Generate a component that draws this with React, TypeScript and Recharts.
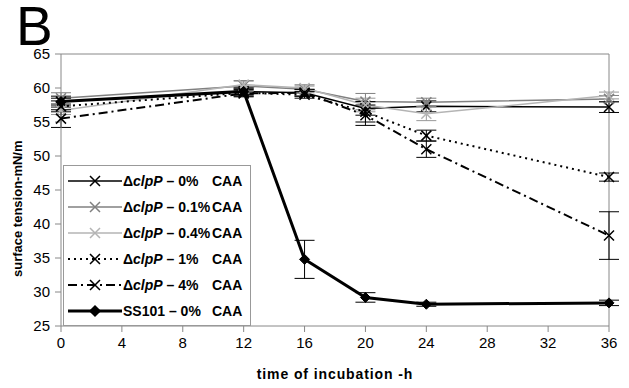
import React from 'react';
import { LineChart, Line, XAxis, YAxis, ErrorBar, ReferenceLine } from 'recharts';

const times = [0, 12, 16, 20, 24, 36];

const clp0 = [58.0, 59.5, 59.3, 57.0, 57.3, 57.2];
const clp01 = [58.5, 60.3, 59.8, 58.0, 57.9, 58.4];
const clp04 = [56.7, 60.5, 60.0, 57.5, 56.2, 58.9];
const clp1 = [57.3, 59.3, 59.0, 56.5, 53.0, 46.9];
const clp4 = [55.5, 59.2, 59.3, 56.0, 51.0, 38.3];
const ss101 = [58.0, 59.5, 34.8, 29.2, 28.2, 28.4];

const err0 = [0.8, 0.5, 0.5, 1.0, 0.8, 0.8];
const err01 = [0.8, 0.8, 0.5, 1.2, 0.6, 0.5];
const err04 = [0.6, 0.5, 0.5, 1.0, 1.0, 0.5];
const err1 = [0.8, 0.5, 0.5, 1.5, 0.8, 0.6];
const err4 = [1.3, 0.5, 0.5, 1.5, 1.2, 3.5];
const errSS = [0.5, 0.5, 2.8, 0.7, 0.3, 0.4];

const xTicks = [0, 4, 8, 12, 16, 20, 24, 28, 32, 36];
const yTicks = [25, 30, 35, 40, 45, 50, 55, 60, 65];

const data = times.map((t, i) => ({
  t,
  clp0: clp0[i], e0: err0[i],
  clp01: clp01[i], e01: err01[i],
  clp04: clp04[i], e04: err04[i],
  clp1: clp1[i], e1: err1[i],
  clp4: clp4[i], e4: err4[i],
  ss101: ss101[i], eSS: errSS[i],
}));

const series = [
  { key: 'clp0', err: 'e0', label: '0%', color: '#000', dash: undefined, width: 1.5, marker: 'x' },
  { key: 'clp01', err: 'e01', label: '0.1%', color: '#808080', dash: undefined, width: 1.5, marker: 'x' },
  { key: 'clp04', err: 'e04', label: '0.4%', color: '#b4b4b4', dash: undefined, width: 1.5, marker: 'x' },
  { key: 'clp1', err: 'e1', label: '1%', color: '#000', dash: '2 4', width: 2, marker: 'x' },
  { key: 'clp4', err: 'e4', label: '4%', color: '#000', dash: '9 4 2 4', width: 2, marker: 'x' },
  { key: 'ss101', err: 'eSS', label: '0%', color: '#000', dash: undefined, width: 3, marker: 'd' },
];

const font = '"Liberation Sans", Arial, sans-serif';

function markerPath(marker: string, cx: number, cy: number) {
  if (marker === 'd') {
    return `M${cx},${cy - 5}L${cx + 5},${cy}L${cx},${cy + 5}L${cx - 5},${cy}Z`;
  }
  return `M${cx - 5},${cy - 5}L${cx + 5},${cy + 5}M${cx - 5},${cy + 5}L${cx + 5},${cy - 5}`;
}

const makeDot = (s: any) => (props: any) => {
  const { cx, cy, index } = props;
  if (cx == null || cy == null) return <g key={index} />;
  return (
    <path
      key={index}
      d={markerPath(s.marker, cx, cy)}
      stroke={s.color}
      strokeWidth={s.marker === 'd' ? 1 : 1.5}
      fill={s.color}
    />
  );
};

function LegendBox() {
  return (
    <div
      style={{
        position: 'absolute',
        left: 63,
        top: 165,
        width: 188,
        height: 161,
        border: '1px solid #999',
        background: '#fff',
        fontFamily: font,
        fontWeight: 'bold',
        fontSize: 14,
        boxSizing: 'border-box',
      }}
    >
      {series.map((s, i) => (
        <div key={s.key} style={{ position: 'absolute', left: 0, top: 4 + i * 26, height: 22, display: 'flex', alignItems: 'center' }}>
          <svg width={59} height={22} style={{ display: 'block' }}>
            <line x1={4} y1={11} x2={58} y2={11} stroke={s.color} strokeWidth={s.width} strokeDasharray={s.dash} />
            <path d={markerPath(s.marker, 31, 11)} stroke={s.color} strokeWidth={1.5} fill={s.color} />
          </svg>
          <span style={{ width: 89, whiteSpace: 'nowrap' }}>
            {s.key === 'ss101' ? (
              <>SS101 – {s.label}</>
            ) : (
              <>
                Δ<i>clpP</i> – {s.label}
              </>
            )}
          </span>
          <span>CAA</span>
        </div>
      ))}
    </div>
  );
}

export default function App() {
  return (
    <div style={{ position: 'absolute', left: 0, top: 0, width: 629, height: 388, background: '#fff' }}>
      <LineChart
        width={629}
        height={388}
        data={data}
        margin={{ top: 54, right: 20, bottom: 0, left: 0 }}
        style={{ position: 'absolute', left: 0, top: 0 }}
      >
        <XAxis
          dataKey="t"
          type="number"
          domain={[0, 36]}
          ticks={xTicks}
          tickSize={6}
          tickMargin={5}
          stroke="#888"
          tick={{ fill: '#000', fontSize: 15, fontFamily: font }}
          height={62}
          label={{ value: 'time of incubation -h', position: 'insideBottom', offset: 9, fill: '#000', fontSize: 14, fontWeight: 'bold', fontFamily: font, letterSpacing: 0.9 }}
        />
        <YAxis
          type="number"
          domain={[25, 65]}
          ticks={yTicks}
          tickSize={6}
          tickMargin={5}
          width={61}
          stroke="#888"
          interval={0}
          tick={{ fill: '#000', fontSize: 15, fontFamily: font }}
          label={{ value: 'surface tension-mN/m', angle: -90, position: 'insideLeft', offset: 17, dy: 87, fill: '#000', fontSize: 13, fontWeight: 'bold', fontFamily: font }}
        />
        <ReferenceLine y={65} stroke="#888" />
        <ReferenceLine x={36} stroke="#888" />
        {series.map((s) => (
          <Line
            key={s.key}
            dataKey={s.key}
            type="linear"
            stroke={s.color}
            strokeWidth={s.width}
            strokeDasharray={s.dash}
            dot={makeDot(s)}
            activeDot={false}
            isAnimationActive={false}
          >
            <ErrorBar dataKey={s.err} width={10} stroke={s.color === '#b4b4b4' ? '#999' : s.color} strokeWidth={1} direction="y" />
          </Line>
        ))}
      </LineChart>
      <div
        style={{
          position: 'absolute',
          left: 16,
          top: 6,
          height: 40,
          fontFamily: font,
          fontSize: 55,
          lineHeight: '40px',
          color: '#000',
        }}
      >
        B
      </div>
      <LegendBox />
    </div>
  );
}
